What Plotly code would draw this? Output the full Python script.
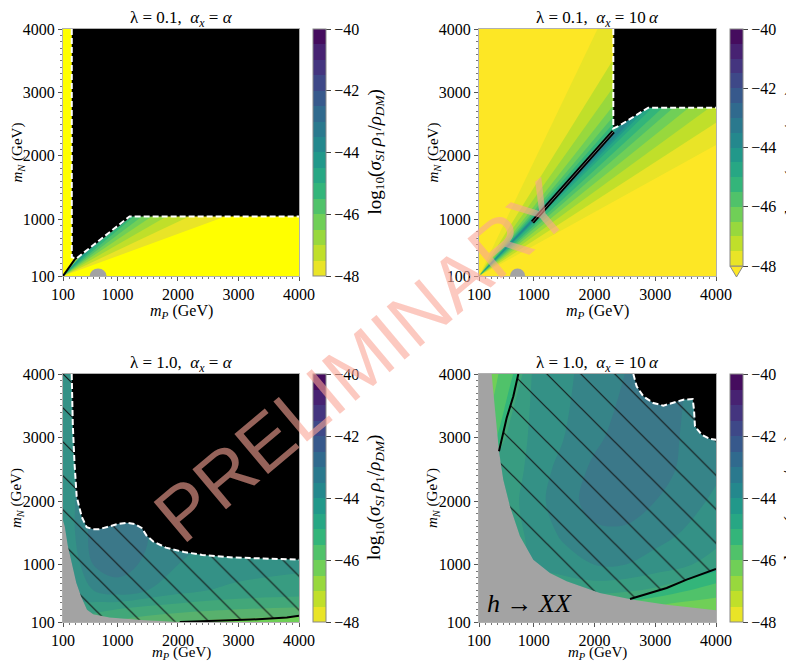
import plotly.graph_objects as go
from plotly.colors import sample_colorscale

# the page places the figure 8 px from the window's top-left corner
PAD = 8
W, H = 794 - PAD, 663 - PAD
SERIF = "Liberation Serif"

# ---------------- data ----------------
AXIS_TICKS = [100, 1000, 2000, 3000, 4000]
CBAR_TICKS = [-48, -46, -44, -42, -40]

# Panels with lambda = 0.1: iso-contours of log10(sigma_SI rho1/rho_DM) fan out from
# (m_P, m_N) = (100, 100); each isoline is read as its end point on the frame.
P1_LEVELS = [-48, -47.5, -47, -46.5, -46, -45.5, -45, -44.5]
P1_LOWER_END_Y = [1465, 1855, 2245, 2600, 2910, 3220, 3530, 3800]   # end on m_P = 4000
P1_UPPER_END_X = [2540, 2890, 3220, 3490, 3650, 3780, 3890, 3960]   # end on m_N = 4000
P2_LEVELS = [-48, -47.5, -47, -46.5, -46, -45.5, -45, -44.5, -44]
P2_LOWER_END_Y = [2170, 2520, 2830, 3100, 3340, 3530, 3730, 3840, 3920]
P2_UPPER_END_X = [2050, 2620, 2990, 3300, 3520, 3680, 3810, 3890, 3940]

# Panels with lambda = 1.0: values on a grid
MP = [100, 300, 600, 1000, 1500, 2000, 2500, 3000, 4000]   # m_P grid (GeV)
MN = [100, 300, 600, 1000, 1500, 2000, 2500, 3000, 4000]   # m_N grid (GeV)
Z_L1_A = [
    [-45.0, -45.2, -45.4, -45.6, -45.8, -46.0, -46.1, -46.2, -46.3],
    [-44.5, -44.6, -44.8, -45.0, -45.2, -45.3, -45.4, -45.5, -45.6],
    [-44.3, -44.3, -44.0, -43.7, -44.0, -44.3, -44.5, -44.6, -44.7],
    [-44.3, -44.2, -43.5, -43.3, -43.6, -44.0, -44.2, -44.3, -44.4],
    [-44.2, -44.0, -43.3, -43.2, -43.5, -43.8, -44.0, -44.2, -44.3],
    [-44.2, -44.0, -43.5, -43.5, -43.6, -43.8, -44.0, -44.2, -44.3],
    [-44.2, -44.0, -43.6, -43.6, -43.7, -43.9, -44.0, -44.2, -44.3],
    [-44.2, -44.0, -43.7, -43.7, -43.8, -43.9, -44.0, -44.2, -44.3],
    [-44.2, -44.0, -43.8, -43.8, -43.9, -44.0, -44.1, -44.2, -44.3],
]
Z_L1_10A = [
    [-46.0, -46.0, -46.0, -46.0, -46.0, -46.0, -46.0, -46.2, -46.5],
    [-46.0, -46.0, -46.0, -46.0, -45.8, -45.8, -45.9, -46.2, -46.3],
    [-45.0, -45.0, -45.0, -44.9, -44.9, -44.8, -44.9, -45.1, -45.8],
    [-45.0, -45.0, -44.8, -44.5, -44.2, -44.0, -44.0, -44.2, -44.7],
    [-45.0, -45.0, -44.8, -44.3, -43.9, -43.6, -43.6, -43.8, -44.3],
    [-45.0, -45.0, -44.7, -44.2, -43.7, -43.3, -43.2, -43.5, -44.1],
    [-45.0, -45.0, -44.8, -44.3, -43.8, -43.4, -43.1, -43.3, -43.9],
    [-46.0, -45.8, -44.8, -44.4, -44.0, -43.6, -43.3, -43.3, -43.8],
    [-46.5, -46.2, -45.7, -44.4, -44.1, -43.8, -43.5, -43.4, -43.6],
]

# excluded (black) region boundaries, dashed in the picture
P1_EXCL_X = [245, 245, 320, 1200, 4000]
P1_EXCL_Y = [4000, 395, 375, 1040, 1040]
P2_EXCL_X = [2310, 2310, 2420, 2886, 4000]
P2_EXCL_Y = [4000, 2430, 2480, 2758, 2758]
P3_EXCL_X = [244, 262, 290, 326, 409, 492, 600, 700, 850, 1000, 1150, 1290, 1400, 1480, 1600, 1800, 2100, 2400, 2900, 3500, 4000]
P3_EXCL_Y = [4000, 3200, 2600, 2071, 1756, 1590, 1560, 1560, 1600, 1640, 1660, 1640, 1580, 1460, 1360, 1270, 1200, 1155, 1115, 1095, 1080]
P4_EXCL_X = [2640, 2694, 2804, 2969, 3133, 3298, 3462, 3616, 3638, 3654, 3764, 3901, 4000]
P4_EXCL_Y = [4000, 3806, 3649, 3544, 3502, 3544, 3596, 3607, 3439, 3177, 3046, 2978, 2967]

# h -> XX (gray) region boundaries
P3_HXX_X = [2030, 1400, 872, 600, 497, 400, 321, 250, 180, 130, 100]
P3_HXX_Y = [100, 130, 170, 220, 294, 500, 713, 1000, 1300, 1600, 1700]
P4_HXX_X = [308, 429, 500, 610, 775, 994, 1268, 1543, 2091, 2640, 3188, 4000]
P4_HXX_Y = [4000, 2784, 2338, 1919, 1447, 1080, 871, 740, 556, 451, 373, 283]
BLOB1_X, BLOB1_Y = [540, 820], [-20, 220]
BLOB2_X, BLOB2_Y = [610, 860], [-20, 220]

# solid black constraint lines
P1_LINE_X, P1_LINE_Y = [100, 300, 1200], [100, 370, 1035]
P2_RIDGE_X, P2_RIDGE_Y = [980, 2310], [950, 2380]
P3_LINE_X, P3_LINE_Y = [2030, 2600, 3200, 3800, 4000], [100, 118, 138, 170, 200]
P4_LEFT_X, P4_LEFT_Y = [747, 665, 555, 429], [4000, 3649, 3308, 2784]
P4_LOW_X, P4_LOW_Y = [2585, 2914, 3188, 3517, 4000], [462, 556, 635, 766, 933]

TITLES = ["λ = 0.1,\u00a0\u00a0<i>α<sub>x</sub></i> = <i>α</i>",
          "λ = 0.1,\u00a0\u00a0<i>α<sub>x</sub></i> = 10\u2009<i>α</i>",
          "λ = 1.0,\u00a0\u00a0<i>α<sub>x</sub></i> = <i>α</i>",
          "λ = 1.0,\u00a0\u00a0<i>α<sub>x</sub></i> = 10\u2009<i>α</i>"]

# ---------------- styling ----------------
BANDS = sample_colorscale("Viridis", [1 - (k + 0.5) / 16 for k in range(16)])


def px_x(p):
    return (p - PAD) / W


def px_y(p):
    return 1 - (p - PAD) / H


def band_color(level):
    return BANDS[int(round((level + 48) / 0.5))]


def contour_scale(under):
    cs = [[0.0, under]]
    for k in range(16):
        cs.append([(k + 1) / 17, BANDS[k]])
    cs.append([1.0, BANDS[15]])
    return cs


def stepped_scale():
    cs = []
    for k in range(16):
        cs.append([k / 16, BANDS[k]])
        cs.append([(k + 1) / 16, BANDS[k]])
    return cs


# window-pixel layout
XDOM = [(63, 299), (479, 716)]
YDOM = [(29, 276), (374, 622)]
CBX = [313, 730]
GRAY = "#a3a3a3"
UNDER = ["#ffff00", "#fde725", BANDS[0], BANDS[0]]
DASH = "6px,3px"

fig = go.Figure()
annotations, shapes = [], []


def note(text, x, y, size, angle=0, family=SERIF, color="black"):
    annotations.append(dict(text=text, x=px_x(x), y=px_y(y), xref="paper", yref="paper",
                            xanchor="center", yanchor="middle", showarrow=False, textangle=angle,
                            font=dict(family=family, size=size, color=color)))


def poly(xs, ys, color, xa, ya):
    fig.add_trace(go.Scatter(x=xs, y=ys, mode="lines", fill="toself", fillcolor=color,
                             line=dict(width=0, color=color), hoverinfo="skip",
                             showlegend=False, xaxis=xa, yaxis=ya))


def hatch(xs, ys, xa, ya):
    fig.add_trace(go.Scatter(x=xs, y=ys, mode="lines", fill="toself",
                             fillcolor="rgba(120,120,120,0.22)",
                             fillpattern=dict(shape="\\", size=24, solidity=0.05,
                                              fgcolor="rgba(15,15,15,0.9)",
                                              bgcolor="rgba(120,120,120,0.22)", fillmode="replace"),
                             line=dict(width=0, color="rgba(0,0,0,0)"), hoverinfo="skip",
                             showlegend=False, xaxis=xa, yaxis=ya))


def line(xs, ys, xa, ya, color="black", width=2, dash="solid"):
    fig.add_trace(go.Scatter(x=xs, y=ys, mode="lines", line=dict(color=color, width=width, dash=dash),
                             hoverinfo="skip", showlegend=False, xaxis=xa, yaxis=ya))


def fan(levels, low_y, up_x, xa, ya):
    for lv, ly, ux in zip(levels, low_y, up_x):
        poly([100, 4000, 4000, ux, 100], [100, ly, 4000, 4000, 100], band_color(lv), xa, ya)


CB_TITLE = "log<sub>10</sub>(<i>σ<sub>SI</sub></i>\u2009<i>ρ</i><sub>1</sub>/<i>ρ<sub>DM</sub></i>)"
for i in range(4):
    col, row = i % 2, i // 2
    ax = "" if i == 0 else str(i + 1)
    xa, ya = "x" + ax, "y" + ax
    shapes.append(dict(type="rect", xref=xa + " domain", yref=ya + " domain", x0=0, x1=1, y0=0, y1=1,
                       fillcolor=UNDER[i], line=dict(width=0), layer="below"))
    top_px, bot_px = YDOM[row]
    if i == 1:
        bot_px = 266
    fig.add_trace(go.Heatmap(
        x=[-6000, -5000], y=[-6000, -5000], z=[[-48, -40], [-44, -44]],
        zmin=-48, zmax=-40, colorscale=stepped_scale(), hoverinfo="skip",
        xaxis=xa, yaxis=ya, showscale=True,
        colorbar=dict(x=px_x(CBX[col]), xanchor="left", y=px_y(top_px), yanchor="top",
                      len=(bot_px - top_px) / H, lenmode="fraction", thickness=13,
                      xpad=0, ypad=0, outlinewidth=1, outlinecolor="#888",
                      tickmode="array", tickvals=CBAR_TICKS, ticks="outside", ticklen=5,
                      tickcolor="#444", tickfont=dict(family=SERIF, size=16, color="black"))))
    x0, x1 = XDOM[col]
    y0, y1 = YDOM[row]
    fig.layout["xaxis" + ax] = dict(domain=[px_x(x0), px_x(x1)], anchor=ya, range=[100, 4000])
    fig.layout["yaxis" + ax] = dict(domain=[px_y(y1), px_y(y0)], anchor=xa, range=[100, 4000])
    cx = (x0 + x1) / 2
    note(TITLES[i], cx, y0 - 10, 17)
    note("<i>m<sub>P</sub></i> (GeV)", cx, y1 + (35 if row == 0 else 31), 16 if row == 0 else 15)
    note("<i>m<sub>N</sub></i> (GeV)", x0 - 46, (y0 + y1) / 2, 15, angle=-90)
    note(CB_TITLE, CBX[col] + 62, (y0 + y1) / 2, 19, angle=-90)

# panel 1
fan(P1_LEVELS, P1_LOWER_END_Y, P1_UPPER_END_X, "x", "y")
poly(P1_EXCL_X + [4000], P1_EXCL_Y + [4000], "black", "x", "y")
line(P1_LINE_X, P1_LINE_Y, "x", "y", width=2)
line(P1_EXCL_X, P1_EXCL_Y, "x", "y", color="white", width=2, dash=DASH)
# panel 2
fan(P2_LEVELS, P2_LOWER_END_Y, P2_UPPER_END_X, "x2", "y2")
poly(P2_EXCL_X + [4000], P2_EXCL_Y + [4000], "black", "x2", "y2")
line(P2_RIDGE_X, P2_RIDGE_Y, "x2", "y2", color="black", width=4)
line(P2_RIDGE_X, P2_RIDGE_Y, "x2", "y2", color="#666666", width=1)
line(P2_EXCL_X, P2_EXCL_Y, "x2", "y2", color="white", width=2, dash=DASH)
# panels 3 and 4: filled contours
for Z, ax in [(Z_L1_A, "3"), (Z_L1_10A, "4")]:
    fig.add_trace(go.Contour(
        x=MP, y=MN, z=Z, autocontour=False,
        contours=dict(start=-48, end=-40, size=0.5, coloring="fill", showlines=False),
        colorscale=contour_scale(BANDS[0]), line=dict(width=0),
        showscale=False, hoverinfo="skip", xaxis="x" + ax, yaxis="y" + ax))
poly(P3_HXX_X + [100], P3_HXX_Y + [100], GRAY, "x3", "y3")
hatch([100] + P3_EXCL_X + [4000] + P3_LINE_X[::-1] + P3_HXX_X[1:],
      [4000] + P3_EXCL_Y + [200] + P3_LINE_Y[::-1] + P3_HXX_Y[1:], "x3", "y3")
poly(P3_EXCL_X + [4000], P3_EXCL_Y + [4000], "black", "x3", "y3")
line(P3_LINE_X, P3_LINE_Y, "x3", "y3", width=2)
line(P3_EXCL_X, P3_EXCL_Y, "x3", "y3", color="white", width=2, dash=DASH)
# panel 4
poly([100, 100] + P4_HXX_X + [4000], [100, 4000] + P4_HXX_Y + [100], GRAY, "x4", "y4")
hatch(P4_LEFT_X[:1] + P4_EXCL_X + P4_LOW_X[::-1] + P4_HXX_X[1:9][::-1] + P4_LEFT_X[::-1],
      P4_LEFT_Y[:1] + P4_EXCL_Y + P4_LOW_Y[::-1] + P4_HXX_Y[1:9][::-1] + P4_LEFT_Y[::-1], "x4", "y4")
poly(P4_EXCL_X + [4000], P4_EXCL_Y + [4000], "black", "x4", "y4")
line(P4_LEFT_X, P4_LEFT_Y, "x4", "y4", width=2)
line(P4_LOW_X, P4_LOW_Y, "x4", "y4", width=2)
line(P4_EXCL_X, P4_EXCL_Y, "x4", "y4", color="white", width=2, dash=DASH)

shapes.append(dict(type="circle", xref="x", yref="y", x0=BLOB1_X[0], x1=BLOB1_X[1],
                   y0=BLOB1_Y[0], y1=BLOB1_Y[1], fillcolor=GRAY, line=dict(width=0)))
shapes.append(dict(type="circle", xref="x2", yref="y2", x0=BLOB2_X[0], x1=BLOB2_X[1],
                   y0=BLOB2_Y[0], y1=BLOB2_Y[1], fillcolor=GRAY, line=dict(width=0)))
tx0, tx1 = px_x(CBX[1]), px_x(CBX[1] + 13)
shapes.append(dict(type="path", xref="paper", yref="paper",
                   path=f"M {tx0},{px_y(266)} L {tx1},{px_y(266)} L {(tx0 + tx1) / 2},{px_y(277)} Z",
                   fillcolor="#fde725", line=dict(color="#888", width=1)))

note("<i>h</i> → <i>XX</i>", 529, 603, 26)
note("PRELIMINARY", 362, 360, 76, angle=-40, family="Liberation Sans", color="rgba(250,165,150,0.6)")

axis_common = dict(tickmode="array", tickvals=AXIS_TICKS, ticks="outside", ticklen=4, tickcolor="#555",
                   showgrid=False, zeroline=False, showline=True, linecolor="#b0b0b0", linewidth=1,
                   mirror=True, tickfont=dict(family=SERIF, size=16, color="black"),
                   minor=dict(ticks="outside", dtick=100, tick0=0, ticklen=2, tickcolor="#777"))
for ax in ["", "2", "3", "4"]:
    fig.layout["xaxis" + ax].update(axis_common)
    fig.layout["yaxis" + ax].update(axis_common)

fig.update_layout(width=W, height=H, margin=dict(l=0, r=0, t=0, b=0, autoexpand=False), showlegend=False,
                  paper_bgcolor="white", plot_bgcolor="white",
                  annotations=annotations, shapes=shapes)
fig.write_html("out.html")
